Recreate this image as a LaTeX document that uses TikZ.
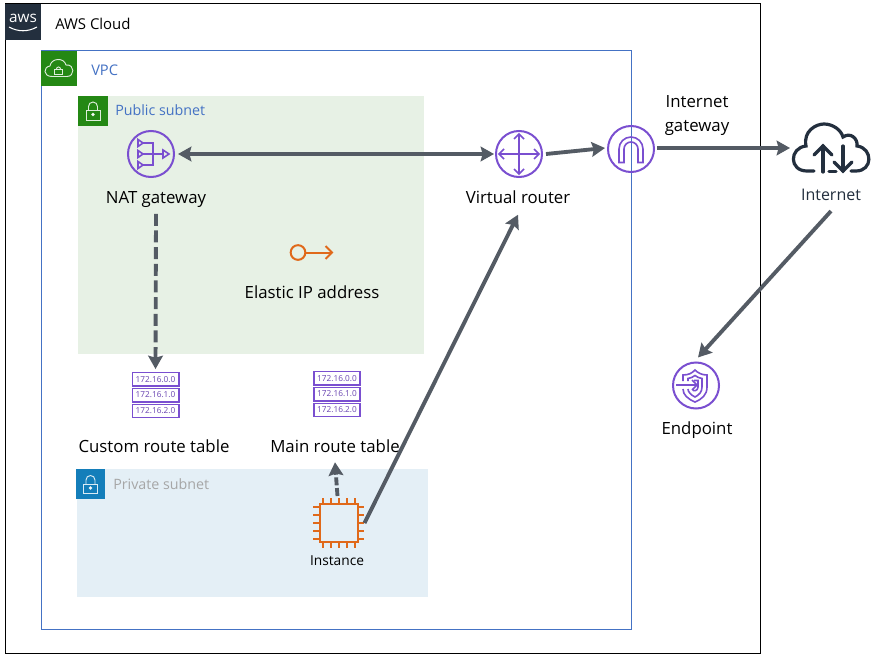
\documentclass[tikz,border=0pt]{standalone}
\usepackage{fontspec}
\setmainfont{Open Sans}
\usetikzlibrary{arrows.meta}
\definecolor{awsdark}{HTML}{232F3E}
\definecolor{vpcblue}{HTML}{4472C4}
\definecolor{awsgreen}{HTML}{248814}
\definecolor{pubfill}{HTML}{E7F1E5}
\definecolor{privfill}{HTML}{E4EFF6}
\definecolor{awsblue}{HTML}{147EBA}
\definecolor{iconpurple}{HTML}{7A4FD0}
\definecolor{iconorange}{HTML}{E0691A}
\definecolor{linkgrey}{HTML}{545B64}
\tikzset{
  lbl/.style={inner sep=0pt,font=\fontsize{12.6}{14}\selectfont,text=black,align=center},
  titlelbl/.style={inner sep=0pt,anchor=west,font=\fontsize{11}{13}\selectfont},
  purpleicon/.style={circle,draw=iconpurple,line width=1.5pt,minimum size=34.5pt,inner sep=0pt},
  purpleline/.style={draw=iconpurple,line width=1.2pt},
  orangeline/.style={draw=iconorange,line width=1.5pt},
  anchorbox/.style={inner sep=0pt,minimum size=1pt},
  link/.style={draw=linkgrey,line width=2.9pt,-{Stealth[length=10pt,width=11pt,inset=1.5pt]}},
  biglink/.style={link,{Stealth[length=10pt,width=11pt,inset=1.5pt]}-{Stealth[length=10pt,width=11pt,inset=1.5pt]}},
  dashlink/.style={link,dash pattern=on 9pt off 3.5pt},
  rtrow/.style={draw=iconpurple,fill=white,line width=1.4pt},
  rttext/.style={inner sep=0pt,text=iconpurple!85!black,font=\fontsize{6.2}{6.5}\selectfont},
  locksym/.style={draw=white,line width=0.7pt,opacity=0.85}
}
\begin{document}
\begin{tikzpicture}[x=0.75pt,y=-0.75pt]
\useasboundingbox (0,0) rectangle (885,660);
\fill[white] (0,0) rectangle (885,660);

% containers
\draw[black,line width=0.75pt] (5,4) rectangle (760,653);
\fill[pubfill] (78,96) rectangle (424,354);
\fill[privfill] (77,469) rectangle (428,597);
\draw[vpcblue,line width=0.75pt] (41,51) rectangle (631,629);

% header squares
\fill[awsdark] (5,4) rectangle (41,40);
\fill[awsgreen] (41,51) rectangle (77,86);
\fill[awsgreen] (78,96) rectangle (108,126);
\fill[awsblue] (76,469) rectangle (105,499);

% aws logo
\node[inner sep=0pt,text=white,font=\fontsize{11.5}{12}\selectfont] (awslogo) at (23,18) {aws};
\draw[white,line width=0.8pt] (9,27) .. controls (18,32) and (28,32) .. (37,27);

% VPC cloud lock
\draw[locksym] (52,76.5) .. controls (43,76.5) and (43,67) .. (50,66) .. controls (51,58) and (64,57) .. (66,65) .. controls (75,64) and (75,76.5) .. (67,76.5) -- cycle;
\draw[locksym] (54.5,69) rectangle (62.5,74);
\draw[locksym] (56.5,69) arc (180:360:2);

% public lock
\draw[locksym] (86,110) rectangle (100,120) ;
\draw[locksym] (88.5,110) -- (88.5,106.5) arc (180:360:4.5) -- (97.5,110);
\draw[locksym,fill=white] (93,114.5) circle (1.2);
% private lock
\draw[locksym] (83.5,484) rectangle (97.5,493);
\draw[locksym] (86,484) -- (86,480) arc (180:360:4.5) -- (95,484);
\draw[locksym,fill=white] (90.5,488) circle (1.2);

% labels
\node[titlelbl,font=\fontsize{11.2}{13}\selectfont] (awscloud) at (55,24) {AWS Cloud};
\node[titlelbl,text=vpcblue] (vpc) at (91,70) {VPC};
\node[titlelbl,text=vpcblue,font=\fontsize{10.7}{13}\selectfont] (pubsub) at (115,110.5) {Public subnet};
\node[titlelbl,text=black!35,font=\fontsize{10.7}{13}\selectfont] (privsub) at (113,484) {Private subnet};
\node[lbl] (natlbl) at (156,199.5) {NAT gateway};
\node[lbl] (routerlbl) at (518,197) {Virtual router};
\node[lbl] (igwlbl) at (697,115.5) {Internet\\[3.5pt]gateway};
\node[lbl,text=awsdark,font=\fontsize{12}{14}\selectfont] (inetlbl) at (831,195) {Internet};
\node[lbl] (endlbl) at (697,430) {Endpoint};
\node[lbl] (eiplbl) at (312,292.5) {Elastic IP address};
\node[lbl] (customlbl) at (154,446.5) {Custom route table};
\node[lbl] (mainlbl) at (335,446.5) {Main route table};
\node[lbl,font=\fontsize{10.3}{12}\selectfont] (instlbl) at (337,561) {Instance};

% NAT gateway
\node[purpleicon] (nat) at (151,154) {};
\draw[purpleline] (143,143) -- (153,143) -- (153,165) -- (143,165);
\draw[purpleline] (143,154) -- (163,154);
\draw[purpleline] (138,139.5) -- (143,143) -- (138,146.5) -- cycle;
\draw[purpleline] (138,150.5) -- (143,154) -- (138,157.5) -- cycle;
\draw[purpleline] (138,161.5) -- (143,165) -- (138,168.5) -- cycle;
\draw[purpleline] (163,150) -- (169,154) -- (163,158) -- cycle;

% virtual router
\node[purpleicon] (router) at (519,154) {};
\draw[purpleline] (499,154) -- (539,154);
\draw[purpleline] (519,134) -- (519,174);
\draw[purpleline] (504,149) -- (499,154) -- (504,159);
\draw[purpleline] (534,149) -- (539,154) -- (534,159);
\draw[purpleline] (514,139) -- (519,134) -- (524,139);
\draw[purpleline] (514,169) -- (519,174) -- (524,169);

% internet gateway
\node[purpleicon] (igw) at (631,149) {};
\draw[purpleline] (619,162.5) -- (619,149) arc (180:360:12) -- (643,162.5) -- (638,162.5) -- (638,149) arc (360:180:7) -- (624,162.5) -- cycle;

% internet cloud
\coordinate (inet) at (790,148);
\begin{scope}[line width=2.4pt,line cap=round]
\draw[awsdark] (814,171) -- (807,171) .. controls (789,171) and (789,148) .. (806,146)
  .. controls (803,131) and (816,124) .. (824,124)
  .. controls (833,124) and (841,130) .. (843,137)
  .. controls (850,132) and (858,138) .. (857,146)
  .. controls (873,148) and (873,171) .. (856,171) -- (851,171);
\draw[awsdark] (823,172) -- (823,146);
\draw[awsdark] (814,155) -- (823,146) -- (832,155);
\draw[awsdark] (843,146) -- (843,171);
\draw[awsdark] (834,162) -- (843,171) -- (852,162);
\draw[awsdark] (829,171.5) -- (836,171.5);
\end{scope}

% endpoint
\node[purpleicon] (endpoint) at (696,385.5) {};
\draw[purpleline] (676,385) -- (697,385);
\draw[purpleline] (692,380) -- (697,385) -- (692,390);
\draw[purpleline] (683,381) -- (683,375) .. controls (689,375) and (692,373) .. (695,370) .. controls (698,373) and (702,375) .. (707,375) -- (707,387) .. controls (707,395) and (702,399) .. (695,402) .. controls (688,399) and (683,395) .. (683,389);
\draw[purpleline] (688,381) -- (688,378.5) .. controls (691,378) and (693,377) .. (695,375.5) .. controls (697,377) and (699,378) .. (702,378.5) -- (702,387) .. controls (702,392) and (699,395) .. (695,397) .. controls (691,395) and (688,392) .. (688,389);
\draw[purpleline] (694,380.5) -- (698,380.5) -- (698,387) .. controls (698,391) and (693,392) .. (692.5,389);

% elastic IP
\node[circle,draw=iconorange,line width=1.5pt,minimum size=11pt,inner sep=0pt] (eip) at (298,252.5) {};
\draw[orangeline] (eip.east) -- (332,252.5);
\draw[orangeline] (325.5,246) -- (332,252.5) -- (325.5,259);

% route tables
\node[anchorbox] (customrt) at (155.5,395) {};
\draw[rtrow] (132.5,372.5) rectangle (179,386);
\draw[rtrow] (132.5,388.5) rectangle (179,402);
\draw[rtrow] (132.5,404.5) rectangle (179,417.5);
\node[rttext] at (155.5,379.5) {172.16.0.0};
\node[rttext] at (155.5,395) {172.16.1.0};
\node[rttext] at (155.5,411) {172.16.2.0};

\node[anchorbox] (mainrt) at (337,394) {};
\draw[rtrow] (314,371.5) rectangle (360,385);
\draw[rtrow] (314,387.5) rectangle (360,401);
\draw[rtrow] (314,403.5) rectangle (360,416.5);
\node[rttext] at (337,378.5) {172.16.0.0};
\node[rttext] at (337,394) {172.16.1.0};
\node[rttext] at (337,410) {172.16.2.0};

% instance chip
\node[draw=iconorange,line width=1.5pt,minimum size=28.5pt,inner sep=0pt] (inst) at (338.5,523) {};
\foreach \d in {-16,-8,0,8,16} {
  \draw[orangeline] (338.5+\d,504) -- (338.5+\d,498);
  \draw[orangeline] (338.5+\d,542) -- (338.5+\d,548);
  \draw[orangeline] (319,523+\d) -- (313,523+\d);
  \draw[orangeline] (358,523+\d) -- (364,523+\d);
}

% connectors
\draw[biglink] ([shift={(3,0)}]nat.east) -- ([shift={(-1,0)}]router.west);
\draw[link] ([shift={(3,0)}]router.east) -- ([shift={(-2,-1)}]igw.west);
\draw[link] ([shift={(2,-1)}]igw.east) -- (inet);
\draw[link] ([shift={(0,10)}]inetlbl.south) -- ([shift={(2,-4)}]endpoint.north);
\draw[dashlink] ([shift={(0,6)}]natlbl.south) -- ([shift={(0,-25)}]customrt.north);
\draw[dashlink,dash pattern=on 6pt off 2pt] ([shift={(-1,-7)}]inst.north) -- ([shift={(0,9)}]mainlbl.south);
\draw[link] ([shift={(6,0)}]inst.east) -- ([shift={(0,11)}]routerlbl.south);
\end{tikzpicture}
\end{document}
